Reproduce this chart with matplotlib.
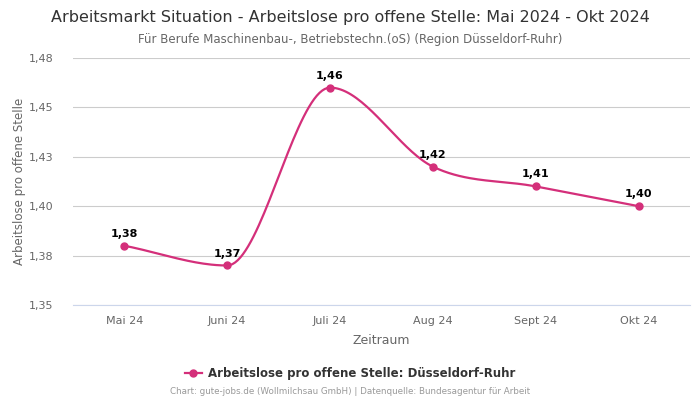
import numpy as np
import matplotlib
matplotlib.use('Agg')
import matplotlib.pyplot as plt
from matplotlib.lines import Line2D

# Daten
monate = ['Mai 24', 'Juni 24', 'Juli 24', 'Aug 24', 'Sept 24', 'Okt 24']
werte = [1.38, 1.37, 1.46, 1.42, 1.41, 1.40]
y_ticks = [1.35, 1.375, 1.40, 1.425, 1.45, 1.475]

farbe = '#d42f7a'


def monotone_kurve(x, y, n=40):
    # monotone kubische Interpolation (Fritsch-Carlson) nur fuer die Linienform
    x = np.asarray(x, float)
    y = np.asarray(y, float)
    h = np.diff(x)
    d = np.diff(y) / h
    m = np.zeros_like(y)
    m[0], m[-1] = d[0], d[-1]
    for i in range(1, len(y) - 1):
        if d[i - 1] * d[i] <= 0:
            m[i] = 0
        else:
            m[i] = (d[i - 1] + d[i]) / 2
    for i in range(len(d)):
        if d[i] == 0:
            m[i] = m[i + 1] = 0
        else:
            a, b = m[i] / d[i], m[i + 1] / d[i]
            s = a * a + b * b
            if s > 9:
                t = 3 / np.sqrt(s)
                m[i] = t * a * d[i]
                m[i + 1] = t * b * d[i]
    xs, ys = [], []
    for i in range(len(d)):
        t = np.linspace(0, 1, n)
        h00 = 2 * t**3 - 3 * t**2 + 1
        h10 = t**3 - 2 * t**2 + t
        h01 = -2 * t**3 + 3 * t**2
        h11 = t**3 - t**2
        xs.append(x[i] + t * h[i])
        ys.append(h00 * y[i] + h10 * h[i] * m[i] + h01 * y[i + 1] + h11 * h[i] * m[i + 1])
    return np.concatenate(xs), np.concatenate(ys)


fig = plt.figure(figsize=(7, 4), dpi=100)
ax = fig.add_axes([0.104, 0.2375, 0.882, 0.6175])

pos = np.arange(len(monate))
kx, ky = monotone_kurve(pos, werte)
ax.plot(kx, ky, color=farbe, lw=1.6, zorder=3)
ax.plot(pos, werte, 'o', color=farbe, ms=5, zorder=4)

for p, w in zip(pos, werte):
    ax.annotate(f'{w:.2f}'.replace('.', ','), (p, w), xytext=(0, 5), textcoords='offset points',
                ha='center', va='bottom', fontsize=8, fontweight='bold', color='black')

ax.set_xlim(-0.5, len(monate) - 0.5)
ax.set_ylim(1.35, 1.475)
ax.set_yticks(y_ticks)
ax.set_yticklabels([f'{v:.2f}'.replace('.', ',') for v in y_ticks])
ax.set_xticks(pos)
ax.set_xticklabels(monate)
ax.tick_params(axis='both', length=0, labelsize=8, labelcolor='#666666', pad=8)
ax.tick_params(axis='y', pad=14)

ax.grid(axis='y', color='#cccccc', lw=0.8)
for s in ['top', 'right', 'left']:
    ax.spines[s].set_visible(False)
ax.spines['bottom'].set_color('#ccd6eb')
ax.spines['bottom'].set_linewidth(0.8)

ax.set_xlabel('Zeitraum', fontsize=9, color='#666666', labelpad=6)
ax.set_ylabel('Arbeitslose pro offene Stelle', fontsize=8.5, color='#666666', labelpad=2)

fig.text(0.5, 0.957, 'Arbeitsmarkt Situation - Arbeitslose pro offene Stelle: Mai 2024 - Okt 2024',
         ha='center', va='center', fontsize=11.5, color='#333333')
fig.text(0.5, 0.902, 'Für Berufe Maschinenbau-, Betriebstechn.(oS) (Region Düsseldorf-Ruhr)',
         ha='center', va='center', fontsize=8.5, color='#666666')

handle = Line2D([], [], color=farbe, marker='o', ms=5, lw=1.6)
fig.legend([handle], ['Arbeitslose pro offene Stelle: Düsseldorf-Ruhr'], loc='center',
           bbox_to_anchor=(0.5, 0.067), frameon=False, handlelength=1.4, handletextpad=0.5,
           prop={'weight': 'bold', 'size': 8.5}, labelcolor='#333333')

fig.text(0.5, 0.02, 'Chart: gute-jobs.de (Wollmilchsau GmbH) | Datenquelle: Bundesagentur für Arbeit',
         ha='center', va='center', fontsize=6.3, color='#999999')

fig.savefig('out.png', dpi=100)
